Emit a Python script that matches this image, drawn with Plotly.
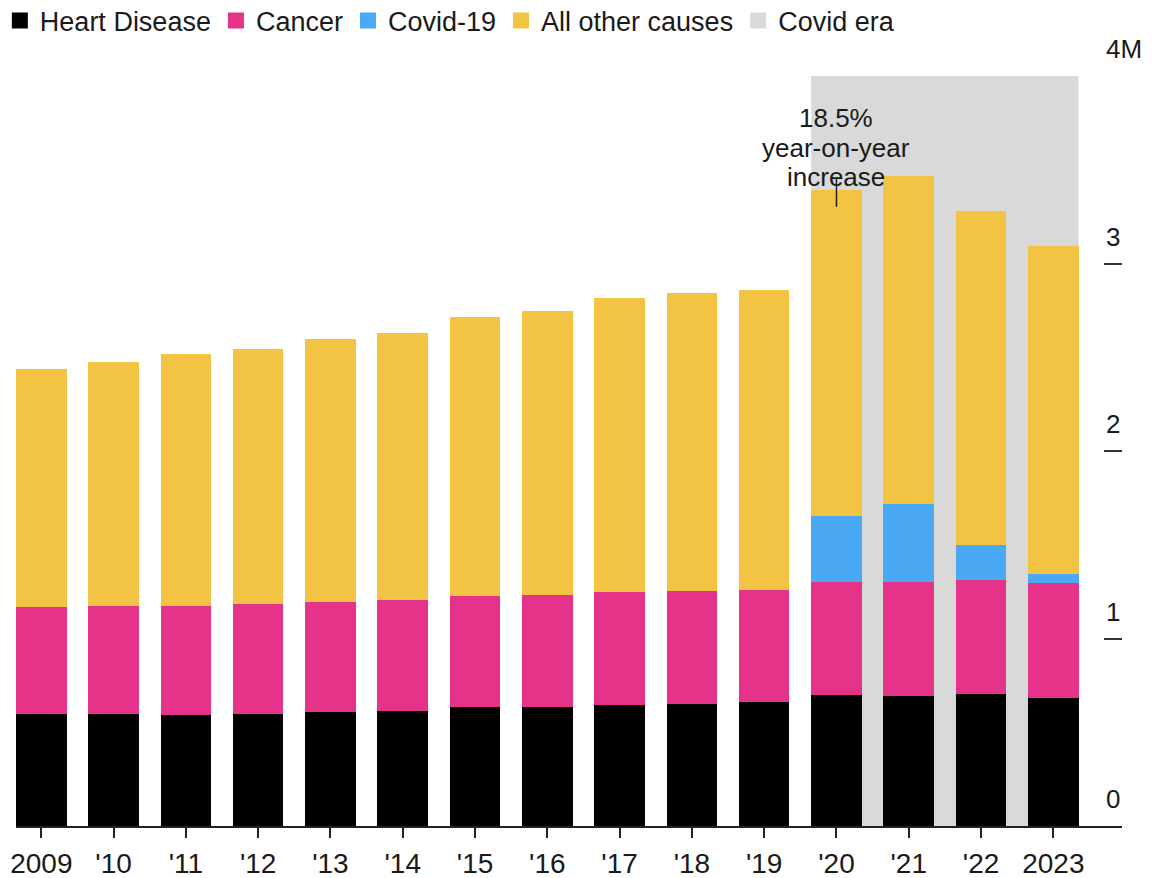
import plotly.graph_objects as go

years = ["2009", "'10", "'11", "'12", "'13", "'14", "'15", "'16", "'17", "'18", "'19", "'20", "'21", "'22", "2023"]
heart = [0.597, 0.597, 0.592, 0.597, 0.608, 0.613, 0.635, 0.635, 0.645, 0.651, 0.661, 0.697, 0.696, 0.704, 0.683]
cancer = [0.571, 0.576, 0.581, 0.587, 0.587, 0.592, 0.592, 0.597, 0.603, 0.602, 0.598, 0.604, 0.605, 0.608, 0.613]
covid = [0, 0, 0, 0, 0, 0, 0, 0, 0, 0, 0, 0.352, 0.416, 0.187, 0.050]
others = [1.269, 1.302, 1.344, 1.360, 1.402, 1.424, 1.488, 1.515, 1.568, 1.590, 1.600, 1.739, 1.750, 1.781, 1.749]
y_ticks = [0, 1, 2, 3, 4]
y_tick_labels = ["0", "1", "2", "3", "4M"]
covid_era_start = "'20"
annot_year = "'20"
annot_lines = ["18.5%", "year-on-year", "increase"]

C_HEART = "#000000"
C_CANCER = "#e5338a"
C_COVID = "#4ba9f3"
C_OTHER = "#f3c444"
C_ERA = "#d9d9d9"
FONT = "Liberation Sans, Arial, sans-serif"
TXT = "#1a1a1a"
FS = 26
BW = 0.70

# page body has an 8px margin; figure sized so plot sits where the reference has it
W, H = 1145, 870
ML, MT, MR, MB = 8, 68, 31, 52
PW = W - ML - MR
PH = H - MT - MB

xs = list(range(len(years)))
fig = go.Figure()
for name, vals, col in [("Heart Disease", heart, C_HEART), ("Cancer", cancer, C_CANCER),
                        ("Covid-19", covid, C_COVID), ("All other causes", others, C_OTHER)]:
    fig.add_trace(go.Bar(x=xs, y=vals, name=name, marker=dict(color=col, line=dict(width=0)),
                         width=BW, showlegend=False))

for name, col in [("Heart Disease", C_HEART), ("Cancer", C_CANCER), ("Covid-19", C_COVID),
                  ("All other causes", C_OTHER), ("Covid era", C_ERA)]:
    fig.add_trace(go.Scatter(x=[None], y=[None], mode="markers", name=name,
                             marker=dict(symbol="square", size=18, color=col)))

totals = [h + c + v + o for h, c, v, o in zip(heart, cancer, covid, others)]
i0 = years.index(covid_era_start)
fig.add_shape(type="rect", x0=i0 - BW / 2, x1=len(years) - 1 + BW / 2, y0=0, y1=max(y_ticks),
              xref="x", yref="y", fillcolor=C_ERA, line=dict(width=0), layer="below")

ia = years.index(annot_year)
fig.add_shape(type="line", x0=ia, x1=ia, y0=totals[ia] - 0.09, y1=totals[ia] + 0.065,
              xref="x", yref="y", line=dict(color="#222222", width=1.5))
for k, line in enumerate(annot_lines):
    fig.add_annotation(x=ia, y=totals[ia], xref="x", yref="y", text=line,
                       showarrow=False, yanchor="middle", xanchor="center",
                       yshift=13 + 29.5 * (len(annot_lines) - 1 - k),
                       font=dict(family=FONT, size=FS, color=TXT))

for v, lab in zip(y_ticks, y_tick_labels):
    fig.add_annotation(x=1, y=v, xref="paper", yref="y", text=lab, showarrow=False,
                       xanchor="left", yanchor="bottom", xshift=-18, yshift=10,
                       font=dict(family=FONT, size=FS, color=TXT))

fig.update_layout(
    width=W, height=H,
    barmode="stack",
    plot_bgcolor="white", paper_bgcolor="white",
    margin=dict(l=ML, r=MR, t=MT, b=MB, autoexpand=False),
    font=dict(family=FONT, size=FS, color=TXT),
    legend=dict(orientation="h", x=-0.0146, y=1 + (MT - 13) / PH, xref="paper", yref="paper",
                xanchor="left", yanchor="middle", font=dict(family=FONT, size=27, color=TXT),
                traceorder="normal", bgcolor="rgba(0,0,0,0)"),
    xaxis=dict(range=[-0.35, len(years) - 0.05], tickvals=xs, ticktext=years,
               showgrid=False, zeroline=False, showline=True, linecolor="#222222", linewidth=1.5,
               ticks="outside", ticklen=10, tickwidth=1.5, tickcolor="#222222",
               ticklabelstandoff=2,
               tickfont=dict(family=FONT, size=28, color=TXT)),
    yaxis=dict(range=[0, max(y_ticks)], side="right", tickvals=y_ticks, showticklabels=False,
               showgrid=False, zeroline=False, showline=False,
               ticks="inside", ticklen=18, tickwidth=1.5, tickcolor="#333333"),
)

fig.write_html("out.html")
